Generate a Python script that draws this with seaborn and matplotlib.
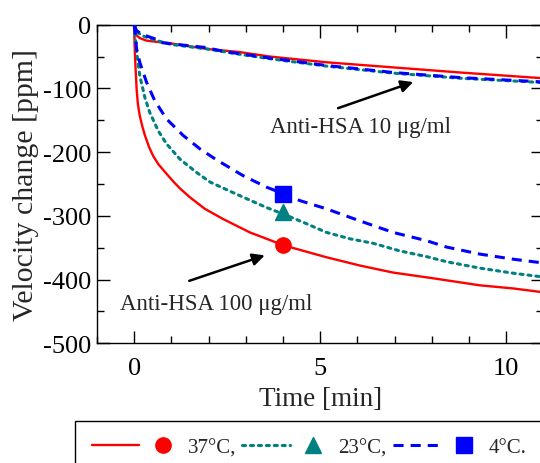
import numpy as np
import pandas as pd
import seaborn as sns
import matplotlib
matplotlib.use("Agg")
import matplotlib.pyplot as plt
from matplotlib.lines import Line2D
from matplotlib.patches import Rectangle
from matplotlib.legend_handler import HandlerTuple
from matplotlib.ticker import MultipleLocator

# ---- data ----
# Anti-HSA 100 ug/ml
t100_37 = [0, 0.01, 0.03, 0.065, 0.1, 0.15, 0.22, 0.29, 0.4, 0.51, 0.65, 0.87, 1.05, 1.23, 1.5, 1.9, 2.39, 3.11, 3.56, 4.0, 5.17, 6.07, 6.96, 8.04, 9.29, 10.2, 11]
v100_37 = [0, -30, -60, -101, -125, -143, -160, -174, -192, -206, -219, -234, -246, -257, -271, -289, -305, -326, -336, -346, -365, -378, -389, -398, -409, -414, -420]
t100_23 = [0, 0.03, 0.065, 0.15, 0.29, 0.42, 0.65, 0.87, 1.23, 1.68, 2.04, 2.75, 3.56, 4.0, 4.54, 5.17, 5.8, 6.42, 7.14, 7.86, 8.4, 9.29, 10.19, 11]
v100_23 = [0, -20, -43, -80, -115, -138, -167, -187, -211, -232, -247, -266, -287, -297, -310, -326, -336, -343, -355, -364, -372, -382, -390, -396]
t100_4 = [0, 0.03, 0.065, 0.15, 0.33, 0.55, 0.87, 1.32, 1.77, 2.21, 2.93, 3.56, 4.0, 4.45, 5.17, 6.07, 6.96, 7.86, 8.4, 9.29, 10.19, 11]
v100_4 = [0, -15, -38, -59, -90, -119, -148, -174, -195, -212, -237, -255, -265, -276, -289, -308, -326, -339, -349, -360, -368, -374]
# Anti-HSA 10 ug/ml
t10_37 = [0, 0.02, 0.065, 0.15, 0.33, 1.05, 1.95, 2.84, 3.65, 5.17, 6.96, 8.76, 10.73, 11]
v10_37 = [0, -10, -17, -21, -25, -30, -38, -43, -50, -59, -67, -75, -83, -84]
t10_23 = [0, 0.06, 0.2, 0.55, 1.0, 1.95, 2.9, 3.6, 5.17, 6.96, 8.76, 10.73, 11]
v10_23 = [0, -10, -17, -24, -31, -38, -47, -53, -65, -76, -84, -90, -91]
t10_4 = [0, 0.06, 0.2, 0.55, 0.73, 1.0, 1.95, 2.4, 2.9, 3.6, 5.17, 6.96, 8.76, 10.73, 11]
v10_4 = [0, -9, -15, -22, -28, -30, -36, -42, -46, -52, -64, -75, -83, -89, -90]
# markers at t = 4 min
mark_t = [4.0, 4.0, 4.0]
mark_v = [-346, -294, -265]
temps = ["37°C,", "23°C,", "4°C."]
colors = ["#ff0000", "#008080", "#0000ff"]

sns.set_theme(style="ticks")
plt.rcParams["font.family"] = ["Liberation Serif", "DejaVu Serif"]
plt.rcParams["axes.unicode_minus"] = False

fig = plt.figure(figsize=(5.4, 4.64), dpi=100)
ax = fig.add_axes([97 / 540, 119.7 / 464, 446.4 / 540, 318.6 / 464])

styles = [dict(linestyle="-", lw=1.7),
          dict(linestyle=(0, (1, 1.6)), lw=2.2, dash_capstyle="round"),
          dict(linestyle=(0, (3.3, 2.3)), lw=2.2)]

series = [
    (t10_37, v10_37, 0), (t10_23, v10_23, 1), (t10_4, v10_4, 2),
    (t100_37, v100_37, 0), (t100_23, v100_23, 1), (t100_4, v100_4, 2),
]
for tt, vv, k in series:
    sns.lineplot(x=tt, y=vv, ax=ax, color=colors[k], **styles[k], zorder=3)

mk = ["o", "^", "s"]
msz = [11, 11, 12]
for k in range(3):
    ax.plot([mark_t[k]], [mark_v[k]], marker=mk[k], ms=msz[k], color=colors[k],
            linestyle="none", zorder=4)

ax.set_xlim(-1, 11)
ax.set_ylim(-500, 0)
ax.xaxis.set_major_locator(MultipleLocator(5))
ax.xaxis.set_minor_locator(MultipleLocator(1))
ax.yaxis.set_major_locator(MultipleLocator(100))
ax.yaxis.set_minor_locator(MultipleLocator(50))
ax.tick_params(which="both", direction="in", top=True, right=True, colors="black",
               labelsize=19, width=1.0)
ax.tick_params(axis="y", pad=4)
ax.tick_params(axis="x", pad=10)
ax.tick_params(which="major", length=9)
ax.tick_params(which="minor", length=5)
for s in ax.spines.values():
    s.set_visible(True)
    s.set_linewidth(1.0)
    s.set_color("black")
ax.set_xlabel("Time [min]", fontsize=19.5, labelpad=5)
ax.set_ylabel("Velocity change [ppm]", fontsize=21.5, labelpad=3)

# annotations
ax.annotate("", xy=(7.5, -90), xytext=(5.48, -131),
            arrowprops=dict(arrowstyle="-|>", color="black", lw=1.8, mutation_scale=18,
                            shrinkA=0, shrinkB=0))
ax.text(3.65, -160, "Anti-HSA 10 μg/ml", fontsize=16.5, va="center", ha="left")
ax.annotate("", xy=(3.51, -362), xytext=(1.48, -402),
            arrowprops=dict(arrowstyle="-|>", color="black", lw=1.8, mutation_scale=18,
                            shrinkA=0, shrinkB=0))
ax.text(-0.38, -438, "Anti-HSA 100 μg/ml", fontsize=16.5, va="center", ha="left")

# legend (frame drawn separately so it runs past the figure edge as in the reference)
handles = []
for k in range(3):
    ln = Line2D([], [], color=colors[k], **styles[k])
    m = Line2D([], [], color=colors[k], marker=mk[k], ms=msz[k], linestyle="none")
    handles.append((ln, m))
leg = fig.legend(handles, temps, handler_map={tuple: HandlerTuple(ndivide=None, pad=0)},
                 loc="upper left", bbox_to_anchor=(75 / 540, 1 - 422 / 464),
                 ncol=3, fontsize=15, frameon=False,
                 handlelength=4.55, handletextpad=0.05, columnspacing=0.3,
                 borderpad=0.8, borderaxespad=0)
fig.patches.append(Rectangle((75 / 540, -0.1), 1.0, 0.1 + (1 - 422 / 464),
                             transform=fig.transFigure, fill=False,
                             edgecolor="black", lw=1.0))

fig.savefig("out.png", dpi=100)
